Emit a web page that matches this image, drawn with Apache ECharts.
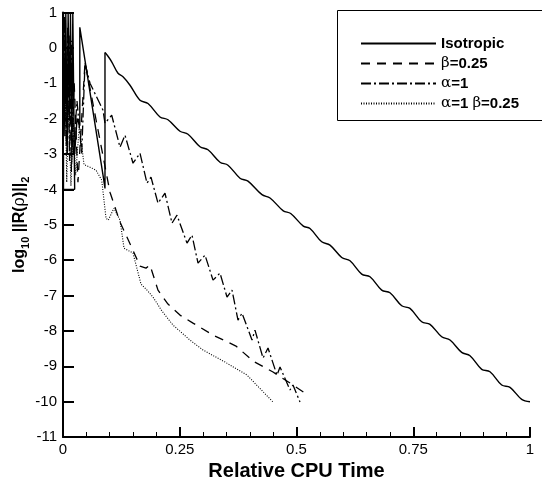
<!DOCTYPE html>
<html><head><meta charset="utf-8">
<script src="https://cdn.jsdelivr.net/npm/echarts@6/dist/echarts.min.js"></script>
<style>html,body{margin:0;padding:0;background:#fff}#c{width:542px;height:478px}</style>
</head><body><div id="c"></div>
<script>
// ---- data (relative CPU time, log10 residual) ----
const seriesNames = ['Isotropic', 'β=0.25', 'α=1', 'α=1 β=0.25'];
const xTickValues = [0, 0.25, 0.5, 0.75, 1];

const isotropicStart = [
  [0.000,-3.0],[0.001,1.0],[0.004,-2.5],[0.006,1.0],[0.009,-3.0],[0.011,1.0],[0.014,-2.0],
  [0.016,1.0],[0.019,-3.0],[0.021,1.0],[0.025,1.0],[0.025,-4.0],[0.001,-4.0],[0.001,-3.0],
  [0.025,-3.0],[0.030,-2.0],[0.036,-2.2],[0.036,0.58],[0.0857,-3.6],
  [0.0899,-3.975],[0.0899,-0.133]
];
const isotropicWaves = [
  [0.0899,-0.133],[0.0964,-0.237],[0.1049,-0.407],[0.1178,-0.718],[0.1285,-0.816],[0.1435,-1.056],
  [0.1649,-1.480],[0.1820,-1.573],[0.2077,-1.952],[0.2248,-2.031],[0.2505,-2.356],[0.2677,-2.441],
  [0.2934,-2.794],[0.3105,-2.879],[0.3362,-3.232],[0.3533,-3.316],[0.3790,-3.684],[0.3961,-3.768],
  [0.4261,-4.150],[0.4433,-4.243],[0.4717,-4.607],[0.4876,-4.681],[0.5146,-5.040],[0.5289,-5.105],
  [0.5540,-5.483],[0.5717,-5.576],[0.5968,-5.924],[0.6146,-6.020],[0.6396,-6.395],[0.6574,-6.472],
  [0.6824,-6.847],[0.7002,-6.924],[0.7253,-7.291],[0.7430,-7.364],[0.7681,-7.743],[0.7859,-7.816],
  [0.8109,-8.167],[0.8287,-8.260],[0.8537,-8.607],[0.8715,-8.703],[0.8966,-9.088],[0.9143,-9.155],
  [0.9394,-9.531],[0.9572,-9.596],[0.9822,-9.935],[1.0,-10.003]
];
const beta025 = [
  [0.000,-2.8],[0.005,0.8],[0.009,-3.0],[0.013,0.4],[0.018,-3.5],[0.024,-1.0],[0.032,-3.8],
  [0.0471,-0.407],[0.1006,-4.079],[0.1221,-4.927],[0.1478,-5.661],[0.1649,-6.169],[0.1777,-6.226],
  [0.1863,-6.141],[0.2034,-6.847],[0.2248,-7.243],[0.2505,-7.554],[0.2784,-7.780],[0.3212,-8.119],
  [0.3704,-8.429],[0.4069,-8.853],[0.4497,-9.164],[0.4861,-9.475],[0.5246,-9.814]
];
const alpha1 = [
  [0.000,-3.0],[0.003,0.9],[0.007,-2.8],[0.010,0.6],[0.014,-3.2],[0.018,0.2],[0.022,-3.0],
  [0.030,-1.5],[0.040,-3.0],[0.0471,-0.435],[0.0578,-1.0],[0.0857,-1.763],
  [0.0899,-2.130],[0.1043,-1.904],[0.1221,-2.808],[0.1328,-2.469],[0.1499,-3.260],[0.1649,-2.977],
  [0.1799,-3.825],[0.1884,-3.655],[0.2034,-4.390],[0.2184,-4.107],[0.2334,-4.955],[0.2441,-4.729],
  [0.2655,-5.520],[0.2762,-5.294],[0.2891,-6.085],[0.3041,-5.859],[0.3212,-6.565],[0.3362,-6.367],
  [0.3512,-7.045],[0.3619,-6.847],[0.3747,-7.695],[0.3833,-7.497],[0.4047,-8.260],[0.4111,-7.977],
  [0.4283,-8.768],[0.4390,-8.486],[0.4582,-9.249],[0.4647,-9.023],[0.4861,-9.672],[0.4925,-9.531],
  [0.5075,-10.011]
];
const alpha1beta025 = [
  [0.000,-3.2],[0.004,-0.5],[0.008,-3.8],[0.012,-1.5],[0.017,-3.9],[0.022,-2.0],[0.027,-3.6],
  [0.035,-2.2],[0.045,-3.3],[0.0578,-3.373],[0.0707,-3.458],[0.0829,-3.740],[0.0921,-4.814],
  [0.0970,-4.870],[0.1092,-4.531],[0.1221,-4.870],[0.1306,-5.661],[0.1499,-5.802],[0.1670,-6.678],
  [0.1799,-6.847],[0.1927,-7.045],[0.2120,-7.441],[0.2355,-7.836],[0.2719,-8.260],[0.2998,-8.542],
  [0.3469,-8.881],[0.3940,-9.249],[0.4497,-10.011]
];

const FONT = '"Liberation Sans", Arial, Helvetica, sans-serif';
const chart = echarts.init(document.getElementById('c'), null, {renderer: 'canvas'});

const legendRich = {
  b: {fontFamily: FONT, fontWeight: 'bold', fontSize: 15, lineHeight: 15, color: '#000'},
  g: {fontFamily: '"DejaVu Serif", serif', fontWeight: 'normal', fontSize: 15, lineHeight: 15, color: '#000'}
};
const legendLabel = {
  'Isotropic': '{b|Isotropic}',
  'β=0.25': '{g|β}{b|=0.25}',
  'α=1': '{g|α}{b|=1}',
  'α=1 β=0.25': '{g|α}{b|=1 }{g|β}{b|=0.25}'
};

function lineSeries(name, data, type, width, smooth) {
  return {
    name: name, type: 'line', data: data, symbol: 'none', smooth: smooth || false,
    animation: false, clip: true,
    lineStyle: {color: '#000', width: width, type: type},
    itemStyle: {color: '#000'},
    emphasis: {disabled: true}
  };
}

chart.setOption({
  animation: false,
  backgroundColor: '#fff',
  grid: {left: 63, right: 12, top: 12.5, bottom: 41, containLabel: false, outerBoundsMode: 'none'},
  xAxis: {
    type: 'value', min: 0, max: 1, interval: 0.25,
    axisLine: {show: true, onZero: false, lineStyle: {color: '#000', width: 2}},
    axisTick: {show: true, inside: true, length: 10, lineStyle: {color: '#000', width: 2}},
    minorTick: {show: true, splitNumber: 5, length: 5, lineStyle: {color: '#000', width: 1}},
    splitLine: {show: false},
    axisLabel: {color: '#000', fontSize: 15, fontFamily: FONT, margin: 5,
      customValues: xTickValues},
    name: 'Relative CPU Time', nameLocation: 'middle', nameGap: 24, nameMoveOverlap: false,
    nameTextStyle: {color: '#000', fontSize: 20, fontWeight: 'bold', fontFamily: FONT}
  },
  yAxis: {
    type: 'value', min: -11, max: 1, interval: 1,
    axisLine: {show: true, onZero: false, lineStyle: {color: '#000', width: 2}},
    axisTick: {show: true, inside: true, length: 11, lineStyle: {color: '#000', width: 2}},
    splitLine: {show: false},
    axisLabel: {color: '#000', fontSize: 15, fontFamily: FONT, margin: 6},
    name: '{b|log}{s|10}{b| ||R(}{g|ρ}{b|)||}{s|2}',
    nameLocation: 'middle', nameGap: 32, nameRotate: 90, nameMoveOverlap: false,
    nameTextStyle: {
      color: '#000', fontFamily: FONT,
      rich: {
        b: {fontFamily: FONT, fontWeight: 'bold', fontSize: 16, lineHeight: 22, verticalAlign: 'middle', color: '#000'},
        g: {fontFamily: '"DejaVu Serif", serif', fontSize: 16, lineHeight: 22, verticalAlign: 'middle', color: '#000'},
        s: {fontFamily: FONT, fontWeight: 'bold', fontSize: 11, lineHeight: 12, verticalAlign: 'bottom', color: '#000'}
      }
    }
  },
  legend: {
    show: true, orient: 'vertical', left: 355, top: 31,
    itemWidth: 75, itemHeight: 14, itemGap: 5,
    data: seriesNames,
    selectedMode: false,
    itemStyle: {opacity: 0},
    formatter: function (n) { return legendLabel[n]; },
    textStyle: {color: '#000', rich: legendRich, lineHeight: 15}
  },
  graphic: [{
    type: 'rect', left: 337, top: 10, z: -1,
    shape: {x: 0, y: 0, width: 215, height: 110},
    style: {fill: '#fff', stroke: '#000', lineWidth: 1}
  }],
  series: [
    lineSeries(seriesNames[0], isotropicStart, 'solid', 1.4, false),
    lineSeries(seriesNames[1], beta025, [9, 7], 1.3, false),
    lineSeries(seriesNames[2], alpha1, [10, 3, 2, 3], 1.3, false),
    lineSeries(seriesNames[3], alpha1beta025, [1, 1.5], 1.1, false),
    lineSeries(seriesNames[0], isotropicWaves, 'solid', 1.4, 0.35)
  ]
});
</script></body></html>
